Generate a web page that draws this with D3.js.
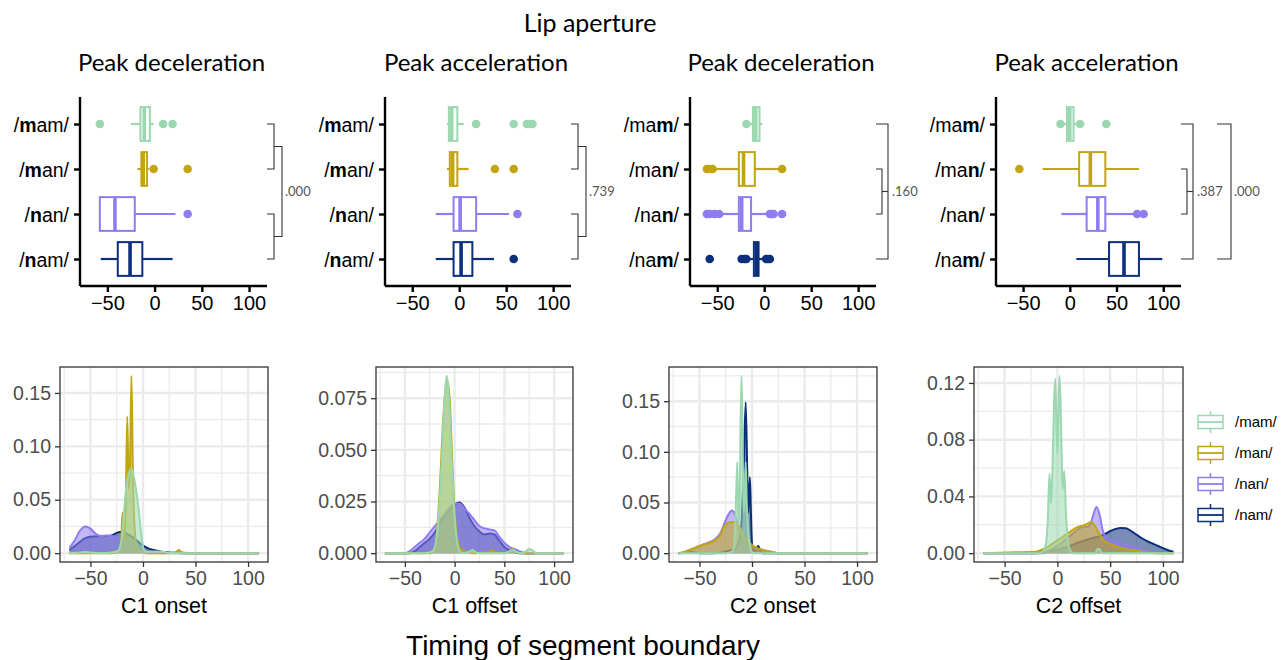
<!DOCTYPE html>
<html>
<head>
<meta charset="utf-8">
<script src="https://cdn.jsdelivr.net/npm/d3@7"></script>
<style>
  body { margin: 0; background: #fff; }
  text { font-family: "Liberation Sans", Arial, sans-serif; }
  .lato { font-family: Lato, sans-serif; }
</style>
</head>
<body>
<div id="chart"></div>
<script>
// groups (top to bottom) and their colours
const groups = ['/mam/', '/man/', '/nan/', '/nam/'];
const colours = ['#9bd8b0', '#c1a512', '#8f7cf0', '#0c2f7c'];

const landmarks = ['Peak deceleration', 'Peak acceleration', 'Peak deceleration', 'Peak acceleration'];
const boundaries = ['C1 onset', 'C1 offset', 'C2 onset', 'C2 offset'];
// which letter of the label is bold in each panel
const boldAt = [1, 1, 3, 3];

const xTicks = [-50, 0, 50, 100];

// box stats per group: [whisker low, q1, median, q3, whisker high]
const boxC1on = [[-25, -15, -11, -5, -1], [-18, -14, -12, -8, -6], [-58, -58, -42, -21, 22], [-57, -39, -26, -13, 19]];
const boxC1off = [[-13, -11, -8, -2, 5], [-13, -10, -7, -2, 10], [-25, -6, 1, 18, 53], [-25, -6, 2, 14, 37]];
const boxC2on = [[-16, -12, -9, -5, -2], [-52, -27, -22, -10, 17], [-45, -27, -24, -14, 4], [-17, -11, -8, -6, 1]];
const boxC2off = [[-7, -3, 0, 4, 8], [-29, 10, 22, 38, 74], [-9, 18, 30, 38, 68], [7, 42, 58, 74, 99]];

// outliers per group
const outC1on = [[-58, 9, 19], [-1, 35], [35], []];
const outC1off = [[18, 58, 72, 75, 78], [38, 58], [62], [58]];
const outC2on = [[-19], [-61, -58, -55, 19], [-61, -58, -53, -48, 6, 8, 10, 19], [-58, -24, -21, -19, 2, 4, 6]];
const outC2off = [[-10, 11, 39], [-54], [72, 79], []];

// pairwise comparison labels
const pValues = ['.000', '.739', '.160', '.387'];
const bracketKind = ['split', 'split', 'nested', 'nested'];
const extraP = [null, null, null, '.000'];

// density curves: [x, density]
const densC1on = [
  [[-70,0],[-60,0.0005],[-55,0.001],[-50,0.0005],[-40,0],[-30,0.0005],[-24,0.002],[-20,0.015],[-18,0.04],[-15,0.068],[-11,0.079],[-7,0.062],[-4,0.04],[-1,0.012],[1,0.003],[4,0.001],[10,0.0015],[18,0.0015],[24,0.0003],[30,0],[110,0]],
  [[-70,0],[-30,0],[-24,0.001],[-21,0.006],[-19.5,0.038],[-18,0.012],[-16.5,0.04],[-15,0.128],[-13.5,0.06],[-12.5,0.075],[-11,0.166],[-9.5,0.07],[-8,0.025],[-6,0.006],[-3,0.002],[0,0.0015],[3,0],[30,0],[34,0.003],[38,0],[110,0]],
  [[-70,0.005],[-65,0.012],[-60,0.021],[-55,0.025],[-50,0.023],[-45,0.018],[-40,0.016],[-35,0.0165],[-30,0.016],[-25,0.015],[-20,0.013],[-15,0.01],[-10,0.007],[-5,0.004],[0,0.002],[5,0.001],[10,0.0003],[20,0],[30,0.0005],[35,0.001],[40,0.0003],[50,0],[110,0]],
  [[-70,0.003],[-62,0.009],[-55,0.014],[-48,0.0155],[-40,0.0158],[-35,0.016],[-30,0.0165],[-25,0.019],[-20,0.02],[-15,0.018],[-10,0.015],[-5,0.011],[0,0.007],[5,0.0045],[10,0.003],[15,0.002],[20,0.001],[28,0.0003],[35,0],[110,0]]
];
const densC1off = [
  [[-70,0],[-30,0],[-22,0.001],[-18,0.008],[-15,0.025],[-13,0.043],[-10,0.075],[-8,0.0858],[-6,0.078],[-3,0.045],[0,0.018],[3,0.004],[6,0.0005],[10,0],[15,0.0008],[18,0.0015],[21,0.0005],[25,0],[50,0],[56,0.001],[59,0.0015],[62,0.0005],[68,0],[72,0.001],[75,0.002],[78,0.0015],[82,0],[110,0]],
  [[-70,0],[-25,0],[-20,0.002],[-15,0.03],[-12,0.06],[-9,0.08],[-7,0.083],[-5,0.075],[-2,0.04],[0,0.02],[3,0.006],[6,0.002],[10,0.001],[20,0],[35,0.0005],[38,0.0015],[41,0.0005],[50,0],[55,0.0008],[58,0.002],[61,0.0008],[65,0],[110,0]],
  [[-70,0],[-50,0],[-45,0.001],[-40,0.003],[-35,0.005],[-30,0.007],[-25,0.01],[-20,0.013],[-15,0.016],[-10,0.019],[-5,0.022],[0,0.024],[5,0.024],[10,0.0215],[15,0.019],[20,0.016],[25,0.013],[30,0.012],[35,0.0115],[40,0.011],[45,0.008],[50,0.005],[55,0.003],[60,0.002],[65,0.001],[72,0],[110,0]],
  [[-70,0],[-45,0],[-40,0.001],[-35,0.003],[-30,0.005],[-25,0.007],[-20,0.01],[-15,0.014],[-10,0.018],[-5,0.021],[0,0.0235],[5,0.0245],[10,0.022],[15,0.017],[20,0.013],[25,0.0105],[30,0.009],[35,0.0095],[40,0.009],[45,0.006],[50,0.003],[55,0.0015],[60,0.0005],[65,0],[110,0]]
];
const densC2on = [
  [[-70,0],[-25,0],[-20,0.001],[-17,0.006],[-15,0.06],[-14,0.09],[-13,0.04],[-12,0.03],[-11,0.12],[-10,0.175],[-9,0.12],[-8,0.04],[-7,0.05],[-6,0.09],[-5,0.05],[-3.5,0.02],[-1.5,0.005],[0,0.001],[3,0],[110,0]],
  [[-70,0],[-65,0.001],[-60,0.003],[-55,0.005],[-50,0.007],[-45,0.0088],[-40,0.01],[-35,0.013],[-30,0.018],[-27,0.025],[-24,0.029],[-21,0.0304],[-17,0.0304],[-14,0.029],[-11,0.024],[-8,0.017],[-5,0.013],[0,0.008],[5,0.005],[10,0.0035],[17,0.0016],[25,0],[110,0]],
  [[-70,0],[-65,0.001],[-60,0.003],[-55,0.005],[-50,0.007],[-45,0.009],[-40,0.011],[-35,0.014],[-30,0.02],[-26,0.03],[-22,0.039],[-19.5,0.042],[-17,0.04],[-14,0.03],[-11,0.02],[-8,0.014],[-5,0.01],[0,0.006],[5,0.004],[10,0.003],[15,0.002],[20,0.001],[25,0],[110,0]],
  [[-70,0],[-62,0.0005],[-58,0.001],[-54,0.0005],[-45,0],[-30,0.0005],[-24,0.002],[-20,0.003],[-16,0.004],[-13,0.01],[-10,0.03],[-8,0.08],[-6,0.149],[-4.5,0.08],[-3.5,0.04],[-2,0.075],[-1,0.04],[0,0.01],[2,0.002],[4,0.004],[6,0.007],[8,0.002],[10,0],[110,0]]
];
const densC2off = [
  [[-70,0],[-16,0],[-13,0.002],[-11,0.006],[-9,0.025],[-7.5,0.056],[-6,0.035],[-4.5,0.065],[-3,0.11],[-2,0.123],[-1,0.095],[0,0.07],[1,0.1],[2,0.125],[3,0.105],[4,0.07],[5,0.045],[6.5,0.058],[8,0.03],[10,0.008],[12,0.002],[15,0],[36,0],[38,0.003],[40,0.003],[42,0],[110,0]],
  [[-70,0],[-40,0.0006],[-20,0.001],[-16,0.002],[-10,0.004],[-5,0.0065],[0,0.009],[6,0.012],[12,0.015],[18,0.018],[25,0.0196],[29,0.021],[32,0.022],[35,0.02],[38,0.016],[41,0.012],[44,0.009],[50,0.0065],[57,0.0044],[65,0.003],[76,0.0016],[85,0.0005],[90,0],[110,0]],
  [[-70,0],[-15,0],[-10,0.001],[-5,0.003],[0,0.005],[5,0.008],[10,0.011],[15,0.014],[20,0.017],[25,0.019],[28,0.0185],[31,0.02],[34,0.027],[37,0.0325],[40,0.027],[43,0.016],[46,0.011],[50,0.009],[55,0.008],[60,0.007],[65,0.006],[70,0.005],[75,0.004],[80,0.0025],[85,0.0012],[90,0.0004],[95,0],[110,0]],
  [[-70,0],[-20,0],[-15,0.0005],[-10,0.001],[-5,0.0018],[0,0.0025],[5,0.0035],[10,0.0045],[15,0.006],[20,0.0075],[25,0.0088],[30,0.01],[35,0.011],[40,0.012],[45,0.0135],[50,0.0155],[55,0.017],[60,0.0178],[65,0.0175],[70,0.0155],[75,0.013],[80,0.0105],[85,0.0085],[90,0.0068],[95,0.0052],[100,0.0035],[105,0.002],[110,0.001]]
];

// y ticks of the density panels
const densTicks = [[0, 0.05, 0.10, 0.15], [0, 0.025, 0.05, 0.075], [0, 0.05, 0.10, 0.15], [0, 0.04, 0.08, 0.12]];
const densDigits = [2, 3, 2, 2];

const boxes = [boxC1on, boxC1off, boxC2on, boxC2off];
const outliers = [outC1on, outC1off, outC2on, outC2off];
const densities = [densC1on, densC1off, densC2on, densC2off];

// layout
const width = 1281, height = 660;
const topFrames = [[80, 267], [385, 571], [690, 876], [996, 1181]];
const topY = [97, 286];
const botFrames = [[60, 268], [376, 573], [669, 877], [974, 1183]];
const botY = [367, 562];
const xDomain = [-79, 119];

const svg = d3.select('#chart').append('svg')
  .attr('width', width)
  .attr('height', height)
  .style('background', '#fff');

svg.append('text')
  .attr('class', 'lato')
  .attr('x', 590).attr('y', 32)
  .attr('text-anchor', 'middle')
  .attr('font-size', 25)
  .text('Lip aperture');

svg.append('text')
  .attr('x', 583).attr('y', 655)
  .attr('text-anchor', 'middle')
  .attr('font-size', 28)
  .text('Timing of segment boundary');

// bracket helper: arms from x0 to xv at y1 and y2
function bracket(g, x0, xv, y1, y2) {
  g.append('path')
    .attr('d', `M${x0},${y1}H${xv}V${y2}H${x0}`)
    .attr('fill', 'none')
    .attr('stroke', '#333')
    .attr('stroke-width', 1.1);
}

// ---------- top row: box plots ----------
topFrames.forEach(([x0, x1], i) => {
  const x = d3.scaleLinear().domain(xDomain).range([x0, x1]);
  const y = d3.scalePoint().domain(groups).range(topY).padding(0.6);
  const bh = y.step() * 0.75;
  const g = svg.append('g');

  g.append('text')
    .attr('class', 'lato')
    .attr('x', (x0 + x1) / 2 - 2).attr('y', 71)
    .attr('text-anchor', 'middle')
    .attr('font-size', 24)
    .text(landmarks[i]);

  // boxes
  groups.forEach((grp, j) => {
    const [lo, q1, med, q3, hi] = boxes[i][j];
    const cy = y(grp), c = colours[j];
    g.append('line')
      .attr('x1', x(lo)).attr('x2', x(q1)).attr('y1', cy).attr('y2', cy)
      .attr('stroke', c).attr('stroke-width', 2.2);
    g.append('line')
      .attr('x1', x(q3)).attr('x2', x(hi)).attr('y1', cy).attr('y2', cy)
      .attr('stroke', c).attr('stroke-width', 2.2);
    g.append('rect')
      .attr('x', x(q1)).attr('y', cy - bh / 2)
      .attr('width', x(q3) - x(q1)).attr('height', bh)
      .attr('fill', '#fff').attr('stroke', c).attr('stroke-width', 2);
    g.append('line')
      .attr('x1', x(med)).attr('x2', x(med)).attr('y1', cy - bh / 2).attr('y2', cy + bh / 2)
      .attr('stroke', c).attr('stroke-width', 3.6);
    g.selectAll(null).data(outliers[i][j]).enter().append('circle')
      .attr('cx', d => x(d)).attr('cy', cy).attr('r', 4.3)
      .attr('fill', c);
  });

  // axes
  const xa = g.append('g')
    .attr('transform', `translate(0,${topY[1]})`)
    .call(d3.axisBottom(x).tickValues(xTicks).tickSize(6).tickSizeOuter(0).tickPadding(4));
  const ya = g.append('g')
    .attr('transform', `translate(${x0},0)`)
    .call(d3.axisLeft(y).tickSize(6).tickSizeOuter(0).tickPadding(5));
  [xa, ya].forEach(a => {
    a.select('.domain').attr('stroke', '#000').attr('stroke-width', 2.4);
    a.selectAll('.tick line').attr('stroke', '#000').attr('stroke-width', 2.4);
    a.selectAll('.tick text').attr('fill', '#000').attr('font-size', 20)
      .attr('font-family', '"Liberation Sans", Arial, sans-serif');
  });
  ya.selectAll('.tick text').attr('font-size', 19.5);
  ya.select('.domain').attr('d', `M0,${topY[0]}V${topY[1]}`);
  xa.select('.domain').attr('d', `M${x0},0H${x1}`);
  ya.selectAll('.tick text').each(function(d) {
    const t = d3.select(this).text(null).attr('dy', '0.36em');
    const k = boldAt[i];
    t.append('tspan').text(d.slice(0, k));
    t.append('tspan').attr('font-weight', 'bold').text(d[k]);
    t.append('tspan').text(d.slice(k + 1));
  });

  // comparison brackets
  const bx = x1;
  const lab = (xx, yy, txt) => g.append('text')
    .attr('class', 'lato')
    .attr('x', xx).attr('y', yy + 4.5)
    .attr('font-size', 13).attr('fill', '#555')
    .text(txt);
  if (bracketKind[i] === 'split') {
    const a1 = y(groups[0]), a2 = y(groups[1]), b1 = y(groups[2]), b2 = y(groups[3]);
    bracket(g, bx, bx + 7, a1, a2);
    bracket(g, bx, bx + 7, b1, b2);
    bracket(g, bx + 7, bx + 15, (a1 + a2) / 2, (b1 + b2) / 2);
    lab(bx + 18, (a1 + a2 + b1 + b2) / 4, pValues[i]);
  } else {
    const o1 = y(groups[0]), o2 = y(groups[3]), n1 = y(groups[1]), n2 = y(groups[2]);
    bracket(g, bx, bx + 12, o1, o2);
    bracket(g, bx, bx + 6, n1, n2);
    g.append('line')
      .attr('x1', bx + 6).attr('x2', bx + 12)
      .attr('y1', (n1 + n2) / 2).attr('y2', (n1 + n2) / 2)
      .attr('stroke', '#333').attr('stroke-width', 1.1);
    lab(bx + 16, (n1 + n2) / 2, pValues[i]);
    if (extraP[i]) {
      bracket(g, bx + 36, bx + 50, o1, o2);
      lab(bx + 53, (n1 + n2) / 2, extraP[i]);
    }
  }
});

// ---------- bottom row: densities ----------
botFrames.forEach(([x0, x1], i) => {
  const x = d3.scaleLinear().domain(xDomain).range([x0, x1]);
  const ymax = d3.max(densities[i], c => d3.max(c, p => p[1]));
  const y = d3.scaleLinear().domain([-0.05 * ymax, 1.05 * ymax]).range([botY[1], botY[0]]);
  const g = svg.append('g');

  // grid: minor lines at the midpoints, then majors
  const tk = densTicks[i];
  const ystep = tk[1] - tk[0];
  const yMinor = d3.range(tk.length + 1).map(k => tk[0] - ystep / 2 + k * ystep)
    .filter(v => v > y.domain()[0] && v < y.domain()[1]);
  const xMinor = [-75, -25, 25, 75];
  g.selectAll(null).data(yMinor).enter().append('line')
    .attr('x1', x0).attr('x2', x1).attr('y1', d => y(d)).attr('y2', d => y(d))
    .attr('stroke', '#ebebeb').attr('stroke-width', 1.3);
  g.selectAll(null).data(xMinor).enter().append('line')
    .attr('y1', botY[0]).attr('y2', botY[1]).attr('x1', d => x(d)).attr('x2', d => x(d))
    .attr('stroke', '#ebebeb').attr('stroke-width', 1.3);
  g.selectAll(null).data(tk).enter().append('line')
    .attr('x1', x0).attr('x2', x1).attr('y1', d => y(d)).attr('y2', d => y(d))
    .attr('stroke', '#ebebeb').attr('stroke-width', 2.4);
  g.selectAll(null).data(xTicks).enter().append('line')
    .attr('y1', botY[0]).attr('y2', botY[1]).attr('x1', d => x(d)).attr('x2', d => x(d))
    .attr('stroke', '#ebebeb').attr('stroke-width', 2.4);

  const area = d3.area().x(d => x(d[0])).y0(y(0)).y1(d => y(d[1])).curve(d3.curveMonotoneX);
  const line = d3.line().x(d => x(d[0])).y(d => y(d[1])).curve(d3.curveMonotoneX);
  // draw /nam/ first, /mam/ last
  [3, 2, 1, 0].forEach(j => {
    g.append('path').attr('d', area(densities[i][j]))
      .attr('fill', colours[j]).attr('fill-opacity', 0.55);
    g.append('path').attr('d', line(densities[i][j]))
      .attr('fill', 'none').attr('stroke', colours[j]).attr('stroke-width', 2)
      .attr('stroke-linejoin', 'round');
  });

  g.append('rect')
    .attr('x', x0).attr('y', botY[0])
    .attr('width', x1 - x0).attr('height', botY[1] - botY[0])
    .attr('fill', 'none').attr('stroke', '#333').attr('stroke-width', 1.3);

  const xa = g.append('g')
    .attr('transform', `translate(0,${botY[1]})`)
    .call(d3.axisBottom(x).tickValues(xTicks).tickSize(5).tickSizeOuter(0).tickPadding(4));
  const ya = g.append('g')
    .attr('transform', `translate(${x0},0)`)
    .call(d3.axisLeft(y).tickValues(tk).tickFormat(d3.format(`.${densDigits[i]}f`))
      .tickSize(5).tickSizeOuter(0).tickPadding(4));
  [xa, ya].forEach(a => {
    a.select('.domain').remove();
    a.selectAll('.tick line').attr('stroke', '#333').attr('stroke-width', 1.3);
    a.selectAll('.tick text').attr('fill', '#4d4d4d').attr('font-size', 19.5)
      .attr('font-family', '"Liberation Sans", Arial, sans-serif');
  });

  g.append('text')
    .attr('x', (x0 + x1) / 2).attr('y', 613)
    .attr('text-anchor', 'middle')
    .attr('font-size', 21.5)
    .text(boundaries[i]);
});

// ---------- legend ----------
const legY = d3.scalePoint().domain(groups).range([422, 515]);
const leg = svg.append('g');
groups.forEach((grp, j) => {
  const cy = legY(grp), c = colours[j];
  leg.append('line').attr('x1', 1210.5).attr('x2', 1210.5).attr('y1', cy - 11).attr('y2', cy + 11)
    .attr('stroke', c).attr('stroke-width', 1.5);
  leg.append('rect').attr('x', 1198).attr('y', cy - 6.5).attr('width', 25).attr('height', 13)
    .attr('fill', '#fff').attr('stroke', c).attr('stroke-width', 1.5);
  leg.append('line').attr('x1', 1198).attr('x2', 1223).attr('y1', cy).attr('y2', cy)
    .attr('stroke', c).attr('stroke-width', 1.8);
  leg.append('text').attr('x', 1235).attr('y', cy + 5)
    .attr('font-size', 15).text(grp);
});
</script>
</body>
</html>
